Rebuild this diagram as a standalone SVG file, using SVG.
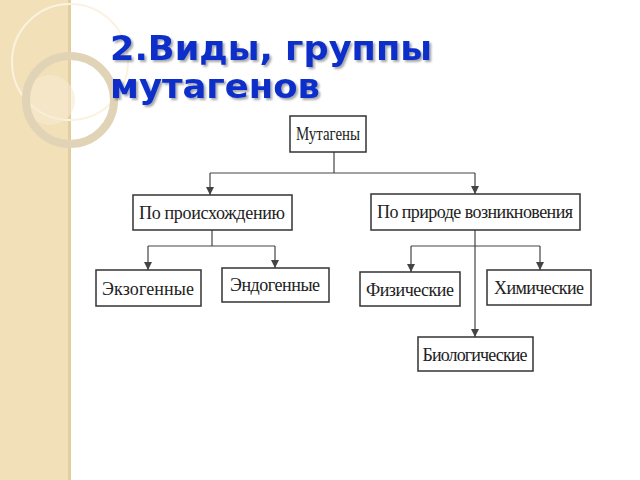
<svg xmlns="http://www.w3.org/2000/svg" width="640" height="480" viewBox="0 0 640 480">
<defs>
<style>
.b{fill:#fff;stroke:#333;stroke-width:1.5}
.t{font-family:"Liberation Serif",serif;font-size:18px;fill:#222;text-anchor:middle}
.c{stroke:#444;stroke-width:1.2;fill:none}
.h{font-family:"DejaVu Sans",sans-serif;font-weight:bold;font-size:34px;fill:#0a2fc8;filter:url(#sh)}
</style>
<filter id="sh" x="-5%" y="-20%" width="110%" height="140%"><feDropShadow dx="2" dy="2" stdDeviation="1" flood-color="#000" flood-opacity="0.35"/></filter>
<marker id="d" markerWidth="8" markerHeight="10" refX="8" refY="4" orient="auto" markerUnits="userSpaceOnUse"><path d="M0,0 L8,4 L0,8 Z" fill="#444"/></marker>
</defs>
<rect width="640" height="480" fill="#fff"/>
<g id="strip">
<rect width="70" height="480" fill="#f1e0b8"/>
<rect x="68" width="3" height="480" fill="#e2cf9f"/>
<circle cx="70" cy="62" r="58" fill="none" stroke="#fbf3e0" stroke-width="2"/>
<circle cx="50" cy="100" r="25" fill="#f6ead0" opacity="0.6"/>
<circle cx="70" cy="100" r="44" fill="none" stroke="#e0d3b6" stroke-width="8"/>
</g>
<g id="title">
<text x="110" y="60" class="h" textLength="322" lengthAdjust="spacingAndGlyphs">2.Виды, группы</text>
<text x="110" y="98" class="h" textLength="210" lengthAdjust="spacingAndGlyphs">мутагенов</text>
</g>
<g id="connectors">
<path class="c" d="M334,152 V173 M210,173 H475"/>
<path class="c" d="M210,173 V195" marker-end="url(#d)"/>
<path class="c" d="M475,173 V194" marker-end="url(#d)"/>
<path class="c" d="M212,230 V246 M148,246 H275"/>
<path class="c" d="M148,246 V270" marker-end="url(#d)"/>
<path class="c" d="M275,246 V268" marker-end="url(#d)"/>
<path class="c" d="M411,246 H540"/>
<path class="c" d="M411,246 V272" marker-end="url(#d)"/>
<path class="c" d="M540,246 V270" marker-end="url(#d)"/>
<path class="c" d="M475,230 V337" marker-end="url(#d)"/>
</g>
<g id="n1"><rect class="b" x="290" y="116" width="76" height="36"/><text class="t" x="328" y="140" textLength="64" lengthAdjust="spacingAndGlyphs">Мутагены</text></g>
<g id="n2"><rect class="b" x="133" y="195" width="159" height="35"/><text class="t" x="212" y="219" textLength="146">По происхождению</text></g>
<g id="n3"><rect class="b" x="371" y="194" width="209" height="36"/><text class="t" x="475" y="218" textLength="196">По природе возникновения</text></g>
<g id="n4"><rect class="b" x="96" y="270" width="105" height="36"/><text class="t" x="148" y="295" textLength="92">Экзогенные</text></g>
<g id="n5"><rect class="b" x="222" y="268" width="107" height="34"/><text class="t" x="275" y="291" textLength="90">Эндогенные</text></g>
<g id="n6"><rect class="b" x="360" y="272" width="100" height="34"/><text class="t" x="410" y="296" textLength="88">Физические</text></g>
<g id="n7"><rect class="b" x="487" y="270" width="104" height="35"/><text class="t" x="539" y="294" textLength="90">Химические</text></g>
<g id="n8"><rect class="b" x="418" y="337" width="115" height="34"/><text class="t" x="475" y="361" textLength="105">Биологические</text></g>
</svg>
